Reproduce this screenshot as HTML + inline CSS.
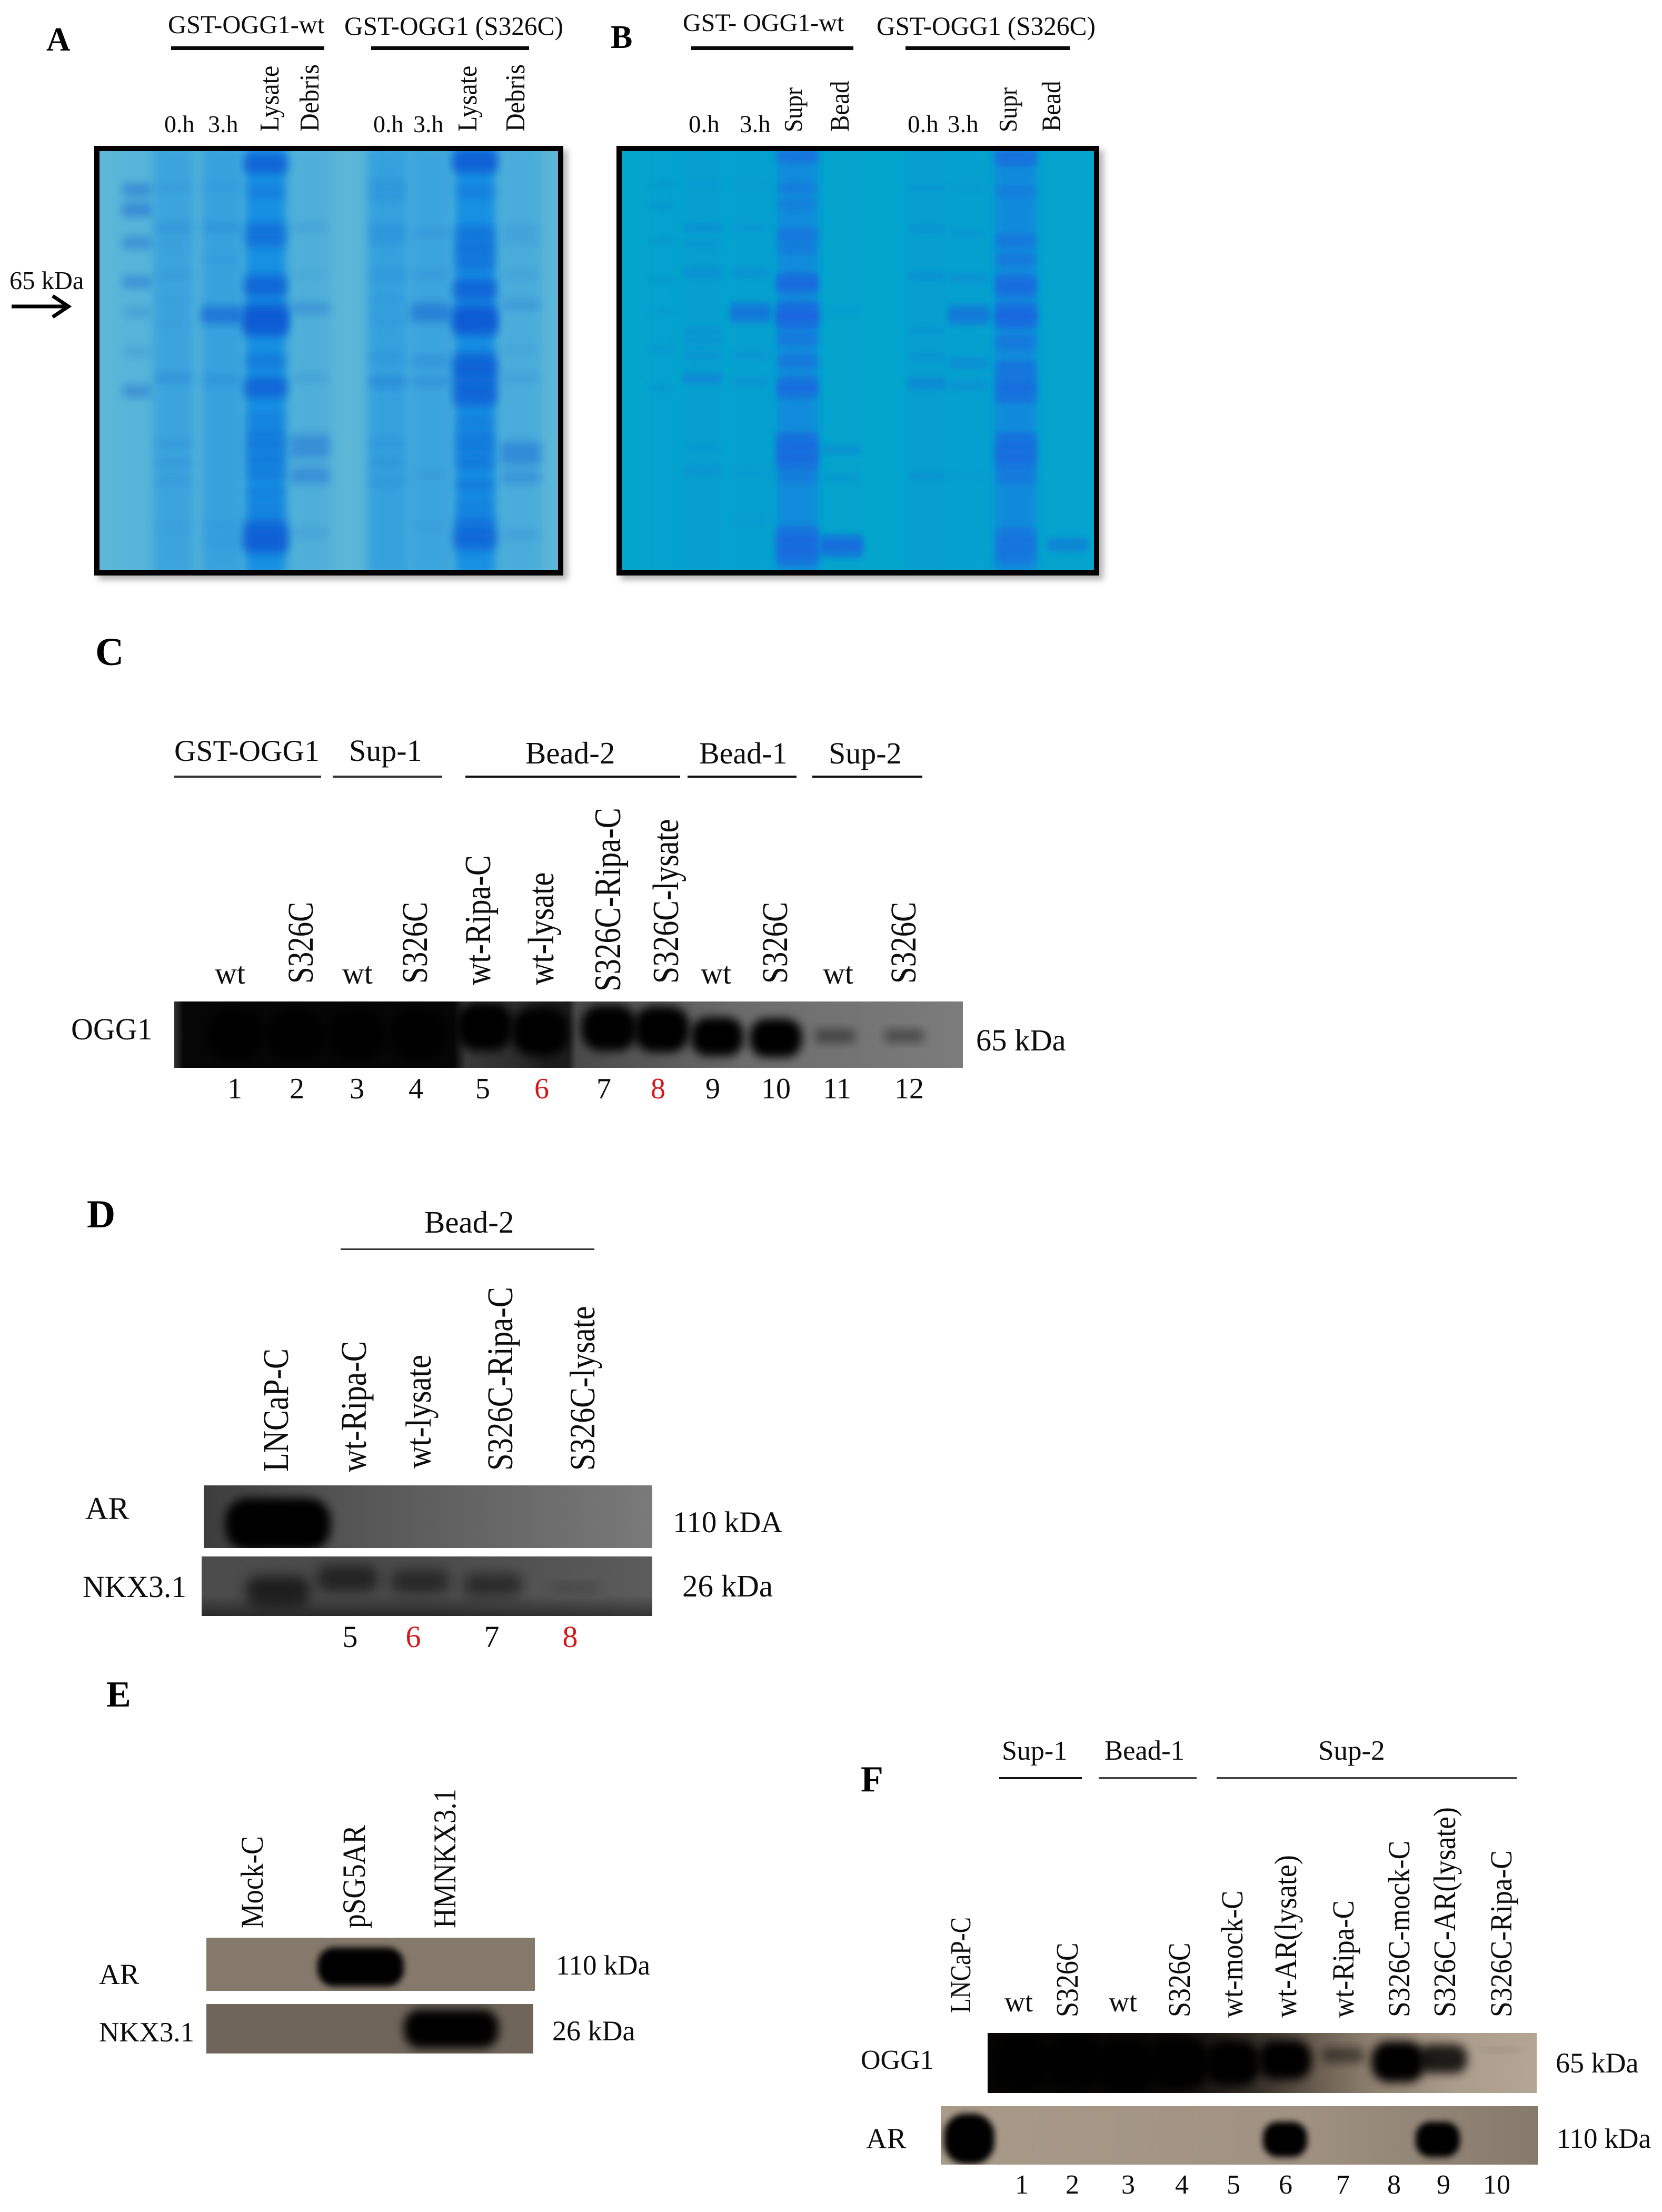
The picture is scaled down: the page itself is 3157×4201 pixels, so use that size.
<!DOCTYPE html>
<html lang="en">
<head>
<meta charset="utf-8">
<title>GST-OGG1 gels and western blots</title>
<style>
html,body{margin:0;padding:0;background:#fff}
svg{display:block}
text{font-family:"Liberation Serif",serif;fill:#0d0d0d}
.bold{font-weight:bold;fill:#000}
.red{fill:#d3191c}
</style>
</head>
<body>
<svg id="figure" xmlns="http://www.w3.org/2000/svg" width="3157" height="4201" viewBox="0 0 3157 4201">
<defs>
<filter id="band-soft" x="-30%" y="-400%" width="160%" height="900%"><feGaussianBlur stdDeviation="8"/></filter>
<filter id="band-fine" x="-30%" y="-300%" width="160%" height="700%"><feGaussianBlur stdDeviation="5"/></filter>
<filter id="blur6" x="-30%" y="-30%" width="160%" height="160%"><feGaussianBlur stdDeviation="6"/></filter>
<filter id="blur9" x="-40%" y="-40%" width="180%" height="180%"><feGaussianBlur stdDeviation="9"/></filter>
<filter id="blur12" x="-40%" y="-40%" width="180%" height="180%"><feGaussianBlur stdDeviation="12"/></filter>
<clipPath id="clip-gel-a"><rect x="189" y="287" width="871" height="796"/></clipPath>
<clipPath id="clip-gel-b"><rect x="1181" y="287" width="897" height="796"/></clipPath>
<clipPath id="clip-c"><rect x="331" y="1902" width="1498" height="126"/></clipPath>
<clipPath id="clip-d-ar"><rect x="387" y="2821" width="852" height="119"/></clipPath>
<clipPath id="clip-d-nkx"><rect x="383" y="2956" width="856" height="113"/></clipPath>
<clipPath id="clip-e-ar"><rect x="392" y="3680" width="624" height="101"/></clipPath>
<clipPath id="clip-e-nkx"><rect x="392" y="3806" width="621" height="94"/></clipPath>
<clipPath id="clip-f-ogg"><rect x="1876" y="3861" width="1043" height="114"/></clipPath>
<clipPath id="clip-f-ar"><rect x="1787" y="4000" width="1134" height="111"/></clipPath>
<linearGradient id="grad-c"><stop offset="0" stop-color="#333"/><stop offset=".012" stop-color="#060606"/><stop offset=".355" stop-color="#060606"/><stop offset=".37" stop-color="#3a3a3a"/><stop offset=".44" stop-color="#2c2c2c"/><stop offset=".47" stop-color="#1c1c1c"/><stop offset=".5" stop-color="#1c1c1c"/><stop offset=".51" stop-color="#4a4a4a"/><stop offset=".62" stop-color="#5a5a5a"/><stop offset=".72" stop-color="#6c6c6c"/><stop offset="1" stop-color="#7c7c7c"/></linearGradient>
<linearGradient id="grad-d-ar"><stop offset="0" stop-color="#3d3d3d"/><stop offset=".35" stop-color="#565656"/><stop offset="1" stop-color="#7a7a7a"/></linearGradient>
<linearGradient id="grad-d-nkx"><stop offset="0" stop-color="#4c4c4c"/><stop offset=".5" stop-color="#4a4a4a"/><stop offset="1" stop-color="#5c5c5c"/></linearGradient>
<linearGradient id="grad-d-nkx-floor" x1="0" y1="0" x2="0" y2="1"><stop offset=".65" stop-color="#000" stop-opacity="0"/><stop offset="1" stop-color="#000" stop-opacity=".45"/></linearGradient>
<linearGradient id="grad-f-ogg"><stop offset="0" stop-color="#060504"/><stop offset=".31" stop-color="#0a0908"/><stop offset=".4" stop-color="#1c1814"/><stop offset=".5" stop-color="#3a332b"/><stop offset=".6" stop-color="#6a5e50"/><stop offset=".7" stop-color="#8f8070"/><stop offset=".85" stop-color="#ab9c8b"/><stop offset="1" stop-color="#b4a594"/></linearGradient>
<linearGradient id="grad-f-ar"><stop offset="0" stop-color="#a99a8a"/><stop offset=".6" stop-color="#a09182"/><stop offset="1" stop-color="#867a6c"/></linearGradient>
</defs>

<g id="panel-a">
  <text class="bold" x="88" y="96" font-size="63">A</text>
  <text x="319" y="63" font-size="48.5">GST-OGG1-wt</text>
  <text x="654" y="66" font-size="49.3">GST-OGG1 (S326C)</text>
  <rect x="325" y="88" width="291" height="7" fill="#0a0a0a"/>
  <rect x="705" y="88" width="300" height="7" fill="#0a0a0a"/>
  <text x="312" y="251" font-size="46">0.h</text>
  <text x="395" y="251" font-size="46">3.h</text>
  <text transform="translate(529,250) rotate(-90) scale(1,1.08)" font-size="48">Lysate</text>
  <text transform="translate(605,250) rotate(-90) scale(1,1.08)" font-size="48">Debris</text>
  <text x="709" y="251" font-size="46">0.h</text>
  <text x="785" y="251" font-size="46">3.h</text>
  <text transform="translate(905,250) rotate(-90) scale(1,1.08)" font-size="48">Lysate</text>
  <text transform="translate(996,250) rotate(-90) scale(1,1.08)" font-size="48">Debris</text>
  <text x="18" y="549" font-size="48.5">65 kDa</text>
  <g fill="none" stroke="#000" stroke-width="7">
    <line x1="22" y1="582" x2="126" y2="582"/>
    <polyline points="100,562 130,582 100,602"/>
  </g>
</g>

<g id="panel-b">
  <text class="bold" x="1160" y="91" font-size="62">B</text>
  <text x="1297" y="59" font-size="48">GST- OGG1-wt</text>
  <text x="1665" y="66" font-size="49.3">GST-OGG1 (S326C)</text>
  <rect x="1313" y="88" width="308" height="7" fill="#0a0a0a"/>
  <rect x="1720" y="88" width="312" height="7" fill="#0a0a0a"/>
  <text x="1308" y="251" font-size="47">0.h</text>
  <text x="1405" y="251" font-size="47">3.h</text>
  <text transform="translate(1523,251) rotate(-90) scale(1,1.08)" font-size="45">Supr</text>
  <text transform="translate(1612,250) rotate(-90) scale(1,1.08)" font-size="47">Bead</text>
  <text x="1724" y="251" font-size="47">0.h</text>
  <text x="1800" y="251" font-size="47">3.h</text>
  <text transform="translate(1931,251) rotate(-90) scale(1,1.08)" font-size="45">Supr</text>
  <text transform="translate(2014,250) rotate(-90) scale(1,1.08)" font-size="47">Bead</text>
</g>

<g id="panel-c">
  <text class="bold" x="181" y="1263" font-size="75">C</text>
  <text x="331" y="1445" font-size="57.5">GST-OGG1</text>
  <text x="663" y="1445" font-size="58">Sup-1</text>
  <text x="998" y="1450" font-size="59">Bead-2</text>
  <text x="1328" y="1450" font-size="58">Bead-1</text>
  <text x="1574" y="1450" font-size="58">Sup-2</text>
  <rect x="331" y="1473" width="279" height="4" fill="#333"/>
  <rect x="632" y="1473" width="208" height="4" fill="#333"/>
  <rect x="884" y="1473" width="408" height="4" fill="#111"/>
  <rect x="1306" y="1473" width="207" height="4" fill="#111"/>
  <rect x="1543" y="1473" width="209" height="4" fill="#111"/>
  <text x="408" y="1868" font-size="58">wt</text>
  <text transform="translate(594,1868) rotate(-90) scale(1,1.2)" font-size="57">S326C</text>
  <text x="650" y="1868" font-size="58">wt</text>
  <text transform="translate(811,1868) rotate(-90) scale(1,1.2)" font-size="57">S326C</text>
  <text transform="translate(931,1871) rotate(-90) scale(1,1.2)" font-size="58.5">wt-Ripa-C</text>
  <text transform="translate(1051,1871) rotate(-90) scale(1,1.2)" font-size="58.5">wt-lysate</text>
  <text transform="translate(1178,1883) rotate(-90) scale(1,1.2)" font-size="58.7">S326C-Ripa-C</text>
  <text transform="translate(1288,1868) rotate(-90) scale(1,1.2)" font-size="58">S326C-lysate</text>
  <text x="1331" y="1868" font-size="58">wt</text>
  <text transform="translate(1495,1868) rotate(-90) scale(1,1.2)" font-size="57">S326C</text>
  <text x="1563" y="1868" font-size="58">wt</text>
  <text transform="translate(1739,1868) rotate(-90) scale(1,1.2)" font-size="57">S326C</text>
  <text x="135" y="1974" font-size="58">OGG1</text>
  <text x="1854" y="1995" font-size="58.5">65 kDa</text>
  <g text-anchor="middle" font-size="56">
    <text x="446" y="2086">1</text>
    <text x="564" y="2086">2</text>
    <text x="678" y="2086">3</text>
    <text x="790" y="2086">4</text>
    <text x="917" y="2086">5</text>
    <text class="red" x="1029" y="2086">6</text>
    <text x="1147" y="2086">7</text>
    <text class="red" x="1250" y="2086">8</text>
    <text x="1354" y="2086">9</text>
    <text x="1474" y="2086">10</text>
    <text x="1590" y="2086">11</text>
    <text x="1727" y="2086">12</text>
  </g>
</g>

<g id="panel-d">
  <text class="bold" x="165" y="2331" font-size="75">D</text>
  <text x="806" y="2341" font-size="59">Bead-2</text>
  <rect x="647" y="2371" width="482" height="3" fill="#333"/>
  <text transform="translate(547,2795) rotate(-90) scale(1,1.17)" font-size="58.5">LNCaP-C</text>
  <text transform="translate(695,2796) rotate(-90) scale(1,1.17)" font-size="59">wt-Ripa-C</text>
  <text transform="translate(818,2789) rotate(-90) scale(1,1.17)" font-size="59">wt-lysate</text>
  <text transform="translate(973,2793) rotate(-90) scale(1,1.17)" font-size="58.7">S326C-Ripa-C</text>
  <text transform="translate(1129,2793) rotate(-90) scale(1,1.17)" font-size="58">S326C-lysate</text>
  <text x="162" y="2885" font-size="60">AR</text>
  <text x="157" y="3033" font-size="57.7">NKX3.1</text>
  <text x="1278" y="2910" font-size="57">110 kDA</text>
  <text x="1296" y="3032" font-size="59">26 kDa</text>
  <g text-anchor="middle" font-size="58">
    <text x="665" y="3128">5</text>
    <text class="red" x="785" y="3128">6</text>
    <text x="934" y="3128">7</text>
    <text class="red" x="1083" y="3128">8</text>
  </g>
</g>

<g id="panel-e">
  <text class="bold" x="202" y="3241" font-size="70">E</text>
  <text transform="translate(499,3662) rotate(-90) scale(1,1.15)" font-size="52.5">Mock-C</text>
  <text transform="translate(693,3662) rotate(-90) scale(1,1.15)" font-size="53.4">pSG5AR</text>
  <text transform="translate(865,3662) rotate(-90) scale(1,1.15)" font-size="52.7">HMNKX3.1</text>
  <text x="188" y="3768" font-size="55">AR</text>
  <text x="188" y="3877" font-size="53">NKX3.1</text>
  <text x="1056" y="3750" font-size="53">110 kDa</text>
  <text x="1049" y="3875" font-size="54">26 kDa</text>
</g>

<g id="panel-f">
  <text class="bold" x="1635" y="3402" font-size="70">F</text>
  <text x="1903" y="3342" font-size="52">Sup-1</text>
  <text x="2098" y="3342" font-size="52.6">Bead-1</text>
  <text x="2504" y="3342" font-size="53">Sup-2</text>
  <rect x="1898" y="3375" width="157" height="4" fill="#111"/>
  <rect x="2087" y="3375" width="186" height="4" fill="#444"/>
  <rect x="2311" y="3375" width="570" height="4" fill="#444"/>
  <text transform="translate(1843,3823) rotate(-90) scale(1,1.2)" font-size="45.5">LNCaP-C</text>
  <text x="1908" y="3820" font-size="54">wt</text>
  <text transform="translate(2047,3831) rotate(-90) scale(1,1.15)" font-size="52">S326C</text>
  <text x="2106" y="3820" font-size="54">wt</text>
  <text transform="translate(2260,3831) rotate(-90) scale(1,1.15)" font-size="52">S326C</text>
  <text transform="translate(2360,3832) rotate(-90) scale(1,1.1)" font-size="53">wt-mock-C</text>
  <text transform="translate(2462,3832) rotate(-90) scale(1,1.1)" font-size="54">wt-AR(lysate)</text>
  <text transform="translate(2571,3832) rotate(-90) scale(1,1.1)" font-size="52.8">wt-Ripa-C</text>
  <text transform="translate(2677,3831) rotate(-90) scale(1,1.1)" font-size="53.4">S326C-mock-C</text>
  <text transform="translate(2764,3831) rotate(-90) scale(1,1.1)" font-size="53.6">S326C-AR(lysate)</text>
  <text transform="translate(2871,3831) rotate(-90) scale(1,1.1)" font-size="53.3">S326C-Ripa-C</text>
  <text x="1635" y="3929" font-size="52">OGG1</text>
  <text x="1645" y="4080" font-size="55">AR</text>
  <text x="2955" y="3936" font-size="54">65 kDa</text>
  <text x="2957" y="4079" font-size="53">110 kDa</text>
  <g text-anchor="middle" font-size="52">
    <text x="1941" y="4166">1</text>
    <text x="2037" y="4166">2</text>
    <text x="2143" y="4166">3</text>
    <text x="2245" y="4166">4</text>
    <text x="2343" y="4166">5</text>
    <text x="2442" y="4166">6</text>
    <text x="2551" y="4166">7</text>
    <text x="2648" y="4166">8</text>
    <text x="2742" y="4166">9</text>
    <text x="2843" y="4166">10</text>
  </g>
</g>
</svg>

<script>
// Gel A: lane numbers, sample load, band migration and band staining
const gelALanes = [0.87, 1.72, 2.83, 3.85, 4.88, 6.68, 7.67, 8.7, 9.76];
const gelALoad = [0.04, 0.45, 0.52, 1, 0.16, 0.55, 0.45, 1, 0.25];
const gelAMigration = [
  [505,558,645,750,830,935,1040],
  [500,605,650,730,800,860,1005,1180,1230,1280,1400],
  [495,605,690,830,845,1010,1400,1440],
  [430,445,510,610,640,750,770,830,850,870,960,1020,1040,1110,1150,1180,1220,1260,1310,1350,1400,1430,1450],
  [605,730,820,1005,1170,1200,1255,1275,1415],
  [490,520,610,640,730,800,850,950,1015,1180,1230,1280],
  [620,730,820,840,960,1015,1260,1400],
  [420,440,510,620,660,700,760,780,830,850,870,960,990,1030,1060,1120,1160,1190,1230,1290,1340,1380,1410,1440],
  [610,640,730,810,930,1005,1190,1220,1270,1420]
];
const gelAStain = [
  [.55,.6,.5,.5,.3,.25,.5],
  [.15,.25,.1,.15,.1,.1,.3,.2,.2,.18,.1],
  [.15,.25,.12,.55,.55,.25,.15,.15],
  [.8,.6,.4,.6,.6,.7,.7,.9,1,.9,.5,.7,.7,.35,.4,.5,.5,.45,.35,.35,.8,.9,.8],
  [.2,.12,.4,.2,.45,.5,.4,.35,.2],
  [.2,.2,.25,.2,.2,.12,.12,.18,.35,.2,.2,.18],
  [.2,.2,.45,.5,.3,.3,.15,.12],
  [.9,.8,.4,.6,.65,.6,.75,.7,.8,1,.85,.85,.9,.85,.8,.4,.45,.5,.5,.45,.35,.45,.7,.8],
  [.2,.15,.15,.3,.12,.2,.5,.5,.4,.2]
];

// Gel B
const gelBLanes = [0.9, 1.87, 2.98, 4.07, 5.1, 7.06, 8.04, 9.13, 10.33];
const gelBLoad = [0.05, 0.15, 0.12, 0.7, 0.02, 0.15, 0.12, 0.75, 0.03];
const gelBMigration = [
  [490,548,640,745,830,930,1030],
  [490,605,650,725,880,905,945,1005,1190,1250],
  [490,605,725,820,840,945,1015,1255,1385],
  [415,500,545,625,660,745,760,825,850,900,960,1020,1040,1170,1200,1230,1270,1420,1450,1480],
  [825,1195,1270,1440,1460],
  [500,610,735,880,950,1020,1265],
  [495,620,740,825,845,965,1025,1265],
  [420,510,640,690,750,770,825,850,910,980,1020,1050,1170,1200,1230,1270,1420,1450,1480],
  [1448]
];
const gelBStain = [
  [.15,.2,.15,.15,.12,.18,.15],
  [.1,.25,.15,.3,.2,.2,.2,.4,.12,.2],
  [.08,.15,.25,.55,.6,.18,.2,.12,.12],
  [.6,.35,.3,.55,.4,.65,.65,.8,.85,.5,.5,.6,.6,.7,.75,.7,.4,.7,.8,.7],
  [.1,.3,.2,.7,.75],
  [.12,.2,.25,.15,.2,.4,.2],
  [.1,.15,.25,.5,.6,.35,.25,.1],
  [.7,.35,.5,.45,.65,.6,.7,.8,.5,.6,.65,.65,.65,.7,.65,.45,.5,.6,.5],
  [.55]
];

// Western blots: lane number, band migration (percent of strip height), band density
const blotCLanes = [1, 2, 3, 4, 5.09, 6, 7.13, 7.99, 8.9, 9.86, 10.83, 11.96];
const blotCMigration = [50, 50, 50, 50, 38, 45, 40, 42, 53, 55, 52, 52];
const blotCDensity = [1, 1, 1, 1, 1, 1, 0.95, 0.95, 0.8, 0.8, 0.3, 0.28];

const blotDArLanes = [0, 0.94, 1.93, 2.92, 4.05];
const blotDArMigration = [62, 62, 62, 62, 62];
const blotDArDensity = [1, 0, 0, 0, 0];

const blotDNkxLanes = [0, 0.94, 1.93, 2.92, 4.05];
const blotDNkxMigration = [58, 37, 42, 48, 53];
const blotDNkxDensity = [0.8, 0.7, 0.6, 0.6, 0.25];

const blotEArLanes = [0, 1, 2];
const blotEArMigration = [55, 55, 55];
const blotEArDensity = [0, 1, 0];

const blotENkxLanes = [0, 1, 2];
const blotENkxMigration = [50, 50, 50];
const blotENkxDensity = [0, 0, 1];

const blotFOggLanes = [1, 2, 3, 4, 5, 6, 7.1, 8.15, 9, 10.1];
const blotFOggMigration = [50, 50, 55, 50, 50, 45, 37, 48, 43, 28];
const blotFOggDensity = [1, 1, 1, 1, 0.85, 0.75, 0.3, 0.78, 0.55, 0.08];

const blotFArLanes = [0, 6, 8.9];
const blotFArMigration = [56, 57, 57];
const blotFArDensity = [1, 0.7, 0.7];

const NS = 'http://www.w3.org/2000/svg';

function shape(tag, parent, props) {
  const el = document.createElementNS(NS, tag);
  for (const k in props) el.setAttribute(k, props[k]);
  parent.appendChild(el);
  return el;
}

function drawGel(panelId, frame, lanes, load, migration, stain, look) {
  const panel = document.getElementById(panelId);
  const inner = { x: frame.x + 10, y: frame.y + 10, w: frame.w - 20, h: frame.h - 20 };
  const laneX = l => inner.x + l * 82;
  const migrationY = m => 289 + (m - 405) / 1105 * 790;

  const shadow = shape('rect', panel, { x: frame.x + 8, y: frame.y + 8, width: frame.w, height: frame.h, fill: '#777', opacity: 0.55, filter: 'url(#blur6)' });
  
  

  const border = shape('rect', panel, { x: frame.x, y: frame.y, width: frame.w, height: frame.h, fill: '#000' });
  
  

  const bg = shape('rect', panel, { x: inner.x, y: inner.y, width: inner.w, height: inner.h, fill: look.bg });
  
  

  const clip = shape('g', panel, { 'clip-path': 'url(#' + look.clip + ')' });
  
  

  lanes.forEach((lane, i) => {
    const w = (i === 0 ? 0.72 : 1) * look.laneWidth;
    const smear = shape('rect', clip, { x: laneX(lane) - w / 2, y: inner.y - 10, width: w, height: inner.h + 20, fill: look.laneColor, opacity: load[i], filter: 'url(#blur9)' });
    
    

    migration[i].forEach((m, j) => {
      const s = stain[i][j];
      const h = 10 + 30 * s;
      const bw = w * (0.9 + 0.2 * s);
      const band = shape('rect', clip, { x: laneX(lane) - bw / 2, y: migrationY(m) - h / 2, width: bw, height: h, rx: 8, fill: look.bandColor, opacity: s * look.bandGain, filter: look.bandFilter });
      
      
    });
  });
}

function drawBlot(panelId, name, frame, look, lanes, migration, density) {
  const panel = document.getElementById(panelId);
  const strip = shape('g', panel, {});
  
  

  const bg = shape('rect', strip, { x: frame.x, y: frame.y, width: frame.w, height: frame.h, fill: look.fill });
  
  

  const clip = shape('g', strip, { 'clip-path': 'url(#' + look.clip + ')' });
  const laneX = l => look.lane0 + l * look.pitch;
  const bandY = m => frame.y + m / 100 * frame.h;

  lanes.forEach((lane, i) => {
    const d = density[i];
    if (d <= 0) return;
    const halfW = look.rx * (0.6 + 0.4 * d);
    const halfH = look.ry * d;
    const blob = shape('rect', clip, {
      x: laneX(lane) - halfW,
      y: bandY(migration[i]) - halfH,
      width: halfW * 2,
      height: halfH * 2,
      rx: halfH * 0.85,
      ry: halfH * 0.85,
      fill: '#000',
      opacity: Math.min(1, d * look.gain),
      filter: look.blur
    });
    
    
  });

  if (look.floor) {
    const floor = shape('rect', strip, { x: frame.x, y: frame.y, width: frame.w, height: frame.h, fill: look.floor });
    
    
  }
}

drawGel('panel-a', { x: 179, y: 277, w: 891, h: 816 }, gelALanes, gelALoad, gelAMigration, gelAStain,
  { bg: '#5bb6d8', laneColor: '#1590e2', bandColor: '#0b55d2', bandGain: 0.7, laneWidth: 78, clip: 'clip-gel-a', bandFilter: 'url(#band-soft)' });

drawGel('panel-b', { x: 1171, y: 277, w: 917, h: 816 }, gelBLanes, gelBLoad, gelBMigration, gelBStain,
  { bg: '#04a5cd', laneColor: '#1580e0', bandColor: '#1a5fe0', bandGain: 0.75, laneWidth: 78, clip: 'clip-gel-b', bandFilter: 'url(#band-fine)' });

drawBlot('panel-c', 'blot-ogg1', { x: 331, y: 1902, w: 1498, h: 126 },
  { fill: 'url(#grad-c)', clip: 'clip-c', lane0: 330, pitch: 116, rx: 54, ry: 46, gain: 1.3, blur: 'url(#blur9)' },
  blotCLanes, blotCMigration, blotCDensity);

drawBlot('panel-d', 'blot-ar', { x: 387, y: 2821, w: 852, h: 119 },
  { fill: 'url(#grad-d-ar)', clip: 'clip-d-ar', lane0: 528, pitch: 140, rx: 100, ry: 50, gain: 1, blur: 'url(#blur9)' },
  blotDArLanes, blotDArMigration, blotDArDensity);

drawBlot('panel-d', 'blot-nkx3-1', { x: 383, y: 2956, w: 856, h: 113 },
  { fill: 'url(#grad-d-nkx)', floor: 'url(#grad-d-nkx-floor)', clip: 'clip-d-nkx', lane0: 528, pitch: 140, rx: 66, ry: 36, gain: 0.75, blur: 'url(#blur12)' },
  blotDNkxLanes, blotDNkxMigration, blotDNkxDensity);

drawBlot('panel-e', 'blot-ar', { x: 392, y: 3680, w: 624, h: 101 },
  { fill: '#85796b', clip: 'clip-e-ar', lane0: 515, pitch: 170, rx: 82, ry: 37, gain: 1, blur: 'url(#blur6)' },
  blotEArLanes, blotEArMigration, blotEArDensity);

drawBlot('panel-e', 'blot-nkx3-1', { x: 392, y: 3806, w: 621, h: 94 },
  { fill: '#6f655a', clip: 'clip-e-nkx', lane0: 515, pitch: 171, rx: 90, ry: 37, gain: 1, blur: 'url(#blur9)' },
  blotENkxLanes, blotENkxMigration, blotENkxDensity);

drawBlot('panel-f', 'blot-ogg1', { x: 1876, y: 3861, w: 1043, h: 114 },
  { fill: 'url(#grad-f-ogg)', clip: 'clip-f-ogg', lane0: 1841, pitch: 100, rx: 56, ry: 50, gain: 1.5, blur: 'url(#blur9)' },
  blotFOggLanes, blotFOggMigration, blotFOggDensity);

drawBlot('panel-f', 'blot-ar', { x: 1787, y: 4000, w: 1134, h: 111 },
  { fill: 'url(#grad-f-ar)', clip: 'clip-f-ar', lane0: 1841, pitch: 100, rx: 48, ry: 48, gain: 1.45, blur: 'url(#blur6)' },
  blotFArLanes, blotFArMigration, blotFArDensity);
</script>
</body>
</html>
